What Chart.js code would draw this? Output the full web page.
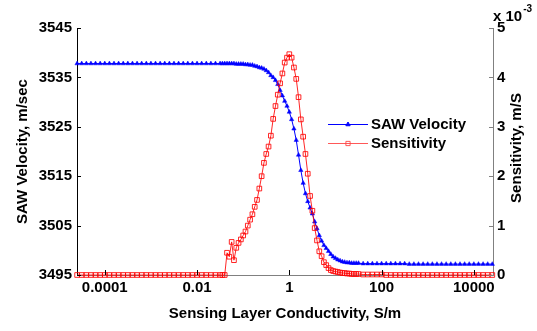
<!DOCTYPE html>
<html lang="en">
<head>
<meta charset="UTF-8">
<title>SAW Velocity and Sensitivity</title>
<script src="https://cdn.jsdelivr.net/npm/chart.js"></script>
<style>
  html, body { margin: 0; padding: 0; background: #fff; }
</style>
</head>
<body>
<canvas id="sawChart" width="537" height="331"></canvas>
<script>
// log10 of sensing layer conductivity (S/m)
const logSigma = [
  -4.6, -4.5, -4.4, -4.3, -4.2, -4.1, -4.0, -3.9, -3.8, -3.7, -3.6, -3.5, -3.4, -3.3, -3.2, -3.1,
  -3.0, -2.9, -2.8, -2.7, -2.6, -2.5, -2.4, -2.3, -2.2, -2.1, -2.0, -1.9, -1.8, -1.7, -1.6,
  -1.5, -1.45, -1.4, -1.35, -1.3, -1.25, -1.2, -1.15, -1.1, -1.05, -1.0, -0.95, -0.9, -0.85, -0.8,
  -0.75, -0.7, -0.65, -0.6, -0.55, -0.5, -0.45, -0.4, -0.35, -0.3, -0.25, -0.2, -0.15, -0.1, -0.05,
  0, 0.05, 0.1, 0.15, 0.2, 0.25, 0.3, 0.35, 0.4, 0.45, 0.5, 0.55, 0.6, 0.65, 0.7, 0.75, 0.8, 0.85,
  0.9, 0.95, 1.0, 1.05, 1.1, 1.15, 1.2, 1.25, 1.3, 1.35, 1.4, 1.45, 1.5,
  1.6, 1.7, 1.8, 1.9, 2.0, 2.1, 2.2, 2.3, 2.4, 2.5, 2.6, 2.7, 2.8, 2.9, 3.0, 3.1, 3.2, 3.3, 3.4,
  3.5, 3.6, 3.7, 3.8, 3.9, 4.0, 4.1, 4.2, 4.3, 4.4
];

// SAW velocity, m/sec
const velocity = [
  3537.8, 3537.8, 3537.8, 3537.8, 3537.8, 3537.8, 3537.8, 3537.8, 3537.8, 3537.8, 3537.8, 3537.8, 3537.8, 3537.8, 3537.8, 3537.8,
  3537.8, 3537.8, 3537.8, 3537.8, 3537.8, 3537.8, 3537.8, 3537.8, 3537.8, 3537.8, 3537.8, 3537.8, 3537.8, 3537.8, 3537.8,
  3537.8, 3537.8, 3537.8, 3537.8, 3537.8, 3537.8, 3537.8, 3537.7, 3537.7, 3537.7, 3537.7, 3537.6, 3537.6, 3537.5, 3537.5,
  3537.3, 3537.2, 3537.0, 3536.9, 3536.7, 3536.4, 3536.0, 3535.4, 3535.0, 3534.4, 3533.6, 3532.4, 3531.3, 3530.2, 3529.2,
  3528.0, 3526.5, 3524.6, 3522.3, 3519.3, 3516.2, 3513.6, 3511.5, 3509.9, 3508.6, 3507.4, 3505.8, 3504.4, 3503.0, 3501.9, 3501.0, 3500.4, 3499.8,
  3499.2, 3498.7, 3498.4, 3498.1, 3497.9, 3497.7, 3497.6, 3497.5, 3497.5, 3497.4, 3497.4, 3497.4, 3497.4,
  3497.3, 3497.3, 3497.3, 3497.3, 3497.3, 3497.3, 3497.3, 3497.3, 3497.3, 3497.3, 3497.2, 3497.2, 3497.2, 3497.2, 3497.2, 3497.2, 3497.2, 3497.2, 3497.2,
  3497.2, 3497.2, 3497.2, 3497.2, 3497.2, 3497.2, 3497.2, 3497.2, 3497.2, 3497.2
];

// sensitivity, m/S (x 10^-3)
const sensitivity = [
  0, 0, 0, 0, 0, 0, 0, 0, 0, 0, 0, 0, 0, 0, 0, 0,
  0, 0, 0, 0, 0, 0, 0, 0, 0, 0, 0, 0, 0, 0, 0,
  0, 0, 0, 0.45, 0.37, 0.67, 0.3, 0.55, 0.65, 0.72, 0.8, 0.88, 1.0, 1.12, 1.23,
  1.38, 1.52, 1.75, 2.0, 2.27, 2.45, 2.6, 2.82, 3.16, 3.42, 3.65, 3.88, 4.08, 4.3, 4.4,
  4.47, 4.4, 4.2, 3.97, 3.6, 3.15, 2.8, 2.45, 2.05, 1.6, 1.3, 0.95, 0.7, 0.48, 0.38, 0.26, 0.2, 0.14,
  0.1, 0.08, 0.07, 0.06, 0.05, 0.04, 0.04, 0.03, 0.03, 0.02, 0.02, 0.02, 0.02,
  0.01, 0.01, 0.01, 0.01, 0.01, 0, 0, 0, 0, 0, 0, 0, 0, 0, 0, 0, 0, 0, 0,
  0, 0, 0, 0, 0, 0, 0, 0, 0, 0
];

const xTickValues = [0.0001, 0.01, 1, 100, 10000];
const xTickLabels = ['0.0001', '0.01', '1', '100', '10000'];
const velTicks = [3495, 3505, 3515, 3525, 3535, 3545];
const sensTicks = [0, 1, 2, 3, 4, 5];

const FONT = '"Liberation Sans", Arial, Helvetica, sans-serif';
const TXT = 'bold 15px ' + FONT;
const BLUE = '#0000ff';
const RED = 'rgba(255, 0, 0, 0.85)';

const conductivity = logSigma.map(e => Math.pow(10, e));
const velPoints = conductivity.map((c, i) => ({ x: c, y: velocity[i] }));
const sensPoints = conductivity.map((c, i) => ({ x: c, y: sensitivity[i] }));

const decorPlugin = {
    id: 'decor',
    afterDraw(chart) {
        const ctx = chart.ctx;
        const { left, right, bottom } = chart.chartArea;
        const sx = chart.scales.x, sy = chart.scales.y, sy1 = chart.scales.y1;
        ctx.save();
        ctx.lineWidth = 1;

        // inward tick marks
        ctx.strokeStyle = '#000';
        ctx.beginPath();
        sy.ticks.forEach(t => {
            const py = Math.round(sy.getPixelForValue(t.value)) + 0.5;
            ctx.moveTo(left, py); ctx.lineTo(left + 4, py);
        });
        sx.ticks.forEach(t => {
            const px = Math.round(sx.getPixelForValue(t.value)) + 0.5;
            ctx.moveTo(px, bottom); ctx.lineTo(px, bottom - 5);
        });
        ctx.stroke();
        ctx.strokeStyle = '#808080';
        ctx.beginPath();
        sy1.ticks.forEach(t => {
            const py = Math.round(sy1.getPixelForValue(t.value)) + 0.5;
            ctx.moveTo(right, py); ctx.lineTo(right - 4, py);
        });
        ctx.stroke();

        // right axis title, reads bottom to top
        ctx.fillStyle = '#000';
        ctx.save();
        ctx.translate(517, 148);
        ctx.rotate(-Math.PI / 2);
        ctx.font = TXT;
        ctx.textAlign = 'center';
        ctx.textBaseline = 'middle';
        ctx.fillText('Sensitivity, m/S', 0, 0);
        ctx.restore();

        // exponent label
        ctx.font = TXT;
        ctx.textAlign = 'left';
        ctx.textBaseline = 'alphabetic';
        ctx.fillText('x 10', 493, 21);
        const w = ctx.measureText('x 10').width;
        ctx.font = 'bold 10px ' + FONT;
        ctx.fillText('-3', 493 + w + 1, 12);

        // legend
        const items = [
            { text: 'SAW Velocity', y: 124, color: BLUE, style: 'triangle', radius: 2.5, fill: BLUE },
            { text: 'Sensitivity', y: 143, color: 'rgba(255, 70, 70, 0.9)', style: 'rect', radius: 3, fill: 'rgba(0,0,0,0)' }
        ];
        items.forEach(it => {
            ctx.strokeStyle = it.color;
            ctx.lineWidth = 1;
            ctx.beginPath();
            ctx.moveTo(328, it.y + 0.5); ctx.lineTo(368, it.y + 0.5);
            ctx.stroke();
            ctx.fillStyle = it.fill;
            Chart.helpers.drawPoint(ctx, { pointStyle: it.style, radius: it.radius, rotation: 0, borderWidth: 1 }, 348, it.y + 0.5);
            ctx.fillStyle = '#000';
            ctx.font = TXT;
            ctx.textBaseline = 'middle';
            ctx.fillText(it.text, 371, it.y + 1);
        });
        ctx.restore();
    }
};

const tickFont = { family: FONT, size: 15, weight: 'bold' };

new Chart(document.getElementById('sawChart'), {
    type: 'scatter',
    data: {
        datasets: [
            {
                label: 'SAW Velocity',
                data: velPoints,
                yAxisID: 'y',
                showLine: true,
                borderColor: BLUE,
                backgroundColor: BLUE,
                borderWidth: 1,
                pointStyle: 'triangle',
                pointRadius: 2.5,
                pointBorderWidth: 0.5,
                order: 1,
                clip: false
            },
            {
                label: 'Sensitivity',
                data: sensPoints,
                yAxisID: 'y1',
                showLine: true,
                borderColor: RED,
                backgroundColor: 'rgba(0,0,0,0)',
                borderWidth: 1,
                pointStyle: 'rect',
                pointRadius: 3.3,
                pointBorderWidth: 1,
                order: 0,
                clip: false
            }
        ]
    },
    options: {
        responsive: false,
        animation: false,
        layout: { padding: { top: 28, left: 0, right: 0, bottom: 0 } },
        plugins: {
            legend: { display: false },
            tooltip: { enabled: false }
        },
        scales: {
            x: {
                type: 'logarithmic',
                position: 'bottom',
                min: 2.5e-5,
                max: 2.6e4,
                afterBuildTicks: s => { s.ticks = xTickValues.map(v => ({ value: v })); },
                afterFit: s => { s.height = 56; },
                grid: { display: false, drawTicks: false },
                border: { display: true, color: '#808080' },
                ticks: {
                    autoSkip: false,
                    maxRotation: 0,
                    padding: 4,
                    color: '#000',
                    font: tickFont,
                    callback: v => { const i = xTickValues.indexOf(v); return i >= 0 ? xTickLabels[i] : ''; }
                },
                title: {
                    display: true,
                    text: 'Sensing Layer Conductivity, S/m',
                    color: '#000',
                    font: tickFont,
                    padding: { top: 0, bottom: 8 }
                }
            },
            y: {
                position: 'left',
                min: 3495,
                max: 3545,
                afterBuildTicks: s => { s.ticks = velTicks.map(v => ({ value: v })); },
                afterFit: s => { s.width = 77; },
                grid: { display: false, drawTicks: false },
                border: { display: true, color: '#000' },
                ticks: { padding: 5, color: '#000', font: tickFont, callback: v => String(v) },
                title: {
                    display: true,
                    text: 'SAW Velocity, m/sec',
                    color: '#000',
                    font: tickFont,
                    padding: { top: 14, bottom: 0 }
                }
            },
            y1: {
                position: 'right',
                min: 0,
                max: 5,
                afterBuildTicks: s => { s.ticks = sensTicks.map(v => ({ value: v })); },
                afterFit: s => { s.width = 44; },
                grid: { display: false, drawTicks: false },
                border: { display: true, color: '#808080' },
                ticks: { padding: 4, color: '#000', font: tickFont, callback: v => String(v) }
            }
        }
    },
    plugins: [decorPlugin]
});
</script>
</body>
</html>
